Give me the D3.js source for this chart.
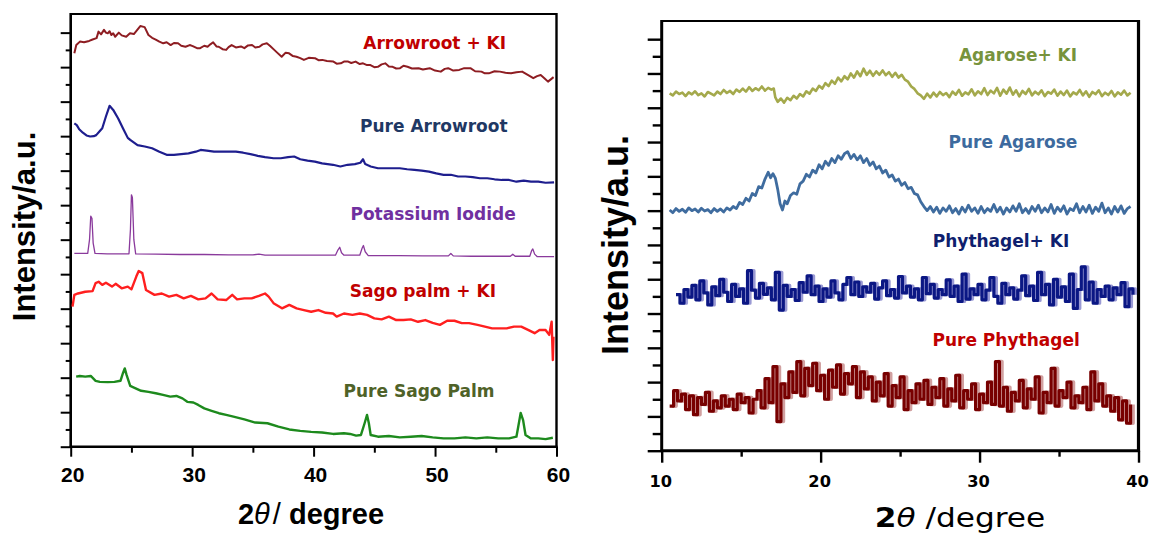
<!DOCTYPE html>
<html>
<head>
<meta charset="utf-8">
<script src="https://cdn.jsdelivr.net/npm/d3@7"></script>
<style>
  body { margin: 0; background: #fff; }
  svg { display: block; }
</style>
</head>
<body>
<svg width="1151" height="535"></svg>
<script>
// ---- data: left panel (2theta, intensity a.u.) ----
var arrowrootKI = [[20.3,11.40],[20.46,11.64],[20.76,11.74],[21.1,11.72],[21.52,11.76],[21.8,11.80],[22.13,11.84],[22.29,12.03],[22.5,11.95],[22.74,12.08],[22.9,12.0],[23.05,11.98],[23.2,12.04],[23.35,11.93],[23.5,11.98],[23.66,11.88],[23.96,12.0],[24.2,11.92],[24.57,11.88],[24.88,11.98],[25.2,11.96],[25.48,12.08],[25.73,12.19],[26.09,12.16],[26.4,11.93],[26.7,11.85],[27.0,11.80],[27.3,11.74],[27.62,11.69],[27.9,11.72],[28.23,11.64],[28.5,11.70],[28.84,11.69],[29.1,11.62],[29.45,11.59],[29.8,11.64],[30.05,11.61],[30.4,11.55],[30.66,11.55],[31.0,11.62],[31.27,11.59],[31.5,11.66],[31.73,11.72],[32.0,11.60],[32.19,11.59],[32.5,11.52],[32.8,11.50],[33.0,11.58],[33.25,11.64],[33.6,11.57],[34.02,11.60],[34.3,11.55],[34.6,11.63],[34.93,11.64],[35.2,11.57],[35.54,11.59],[35.8,11.66],[36.15,11.69],[36.4,11.62],[36.76,11.50],[37.0,11.42],[37.37,11.30],[37.7,11.42],[37.98,11.40],[38.3,11.32],[38.59,11.30],[38.9,11.26],[39.2,11.21],[39.6,11.27],[40.11,11.26],[40.4,11.20],[40.72,11.21],[41.1,11.18],[41.63,11.16],[41.9,11.10],[42.24,11.11],[42.5,11.16],[42.85,11.16],[43.1,11.12],[43.46,11.16],[43.8,11.09],[44.07,11.11],[44.4,11.06],[44.68,11.06],[45.0,11.00],[45.29,11.01],[45.6,11.08],[45.9,11.11],[46.2,11.02],[46.51,11.01],[46.8,10.96],[47.12,10.97],[47.4,11.04],[47.73,11.01],[48.1,10.96],[48.64,10.97],[49.0,10.93],[49.56,10.97],[50.0,10.90],[50.47,10.87],[50.8,10.95],[51.08,10.97],[51.5,10.90],[51.99,10.92],[52.4,10.97],[52.91,10.97],[53.3,10.88],[53.82,10.87],[54.1,10.82],[54.43,10.82],[54.9,10.88],[55.34,10.87],[55.8,10.84],[56.26,10.82],[56.7,10.85],[57.17,10.87],[57.6,10.78],[58.09,10.68],[58.4,10.74],[58.7,10.77],[59.0,10.68],[59.3,10.58],[59.76,10.71]];

var pureArrowroot = [[20.3,9.37],[20.5,9.32],[20.7,9.20],[21.0,9.10],[21.3,9.02],[21.6,8.99],[21.9,9.00],[22.1,9.03],[22.4,9.15],[22.6,9.23],[22.9,9.57],[23.2,9.88],[23.5,9.76],[23.9,9.52],[24.3,9.23],[24.7,8.95],[24.9,8.89],[25.5,8.74],[26.1,8.70],[26.7,8.65],[27.3,8.55],[27.9,8.46],[28.5,8.46],[29.1,8.48],[29.7,8.50],[30.3,8.55],[30.7,8.60],[31.2,8.58],[31.8,8.55],[32.4,8.55],[33.0,8.55],[33.6,8.55],[34.2,8.52],[34.8,8.48],[35.4,8.43],[36.0,8.39],[36.7,8.36],[37.3,8.36],[37.9,8.39],[38.4,8.41],[38.9,8.33],[39.5,8.29],[40.1,8.26],[40.7,8.21],[41.6,8.17],[42.2,8.12],[42.8,8.17],[43.4,8.19],[43.85,8.23],[44.07,8.33],[44.25,8.19],[44.7,8.12],[45.3,8.07],[45.9,8.07],[46.5,8.07],[47.1,8.07],[47.7,8.04],[48.3,8.02],[48.9,8.00],[49.5,7.97],[50.1,7.92],[50.7,7.88],[51.3,7.88],[51.9,7.83],[52.5,7.83],[53.1,7.81],[53.7,7.78],[54.3,7.78],[54.9,7.75],[55.5,7.73],[56.1,7.73],[56.7,7.68],[57.3,7.71],[57.9,7.68],[58.5,7.68],[59.1,7.65],[59.8,7.66]];

var potassiumIodide = [[20.3,5.60],[21.0,5.60],[21.4,5.60],[21.55,6.0],[21.65,6.68],[21.75,6.62],[21.85,5.9],[22.0,5.60],[23.0,5.59],[24.0,5.59],[24.8,5.59],[24.92,6.3],[25.0,7.30],[25.08,7.22],[25.2,6.0],[25.35,5.59],[27.0,5.58],[29.0,5.57],[31.0,5.57],[33.0,5.56],[35.0,5.56],[35.5,5.58],[36.0,5.55],[38.0,5.55],[40.0,5.55],[41.8,5.55],[42.0,5.70],[42.15,5.78],[42.3,5.62],[42.5,5.55],[43.8,5.55],[44.0,5.76],[44.1,5.83],[44.25,5.65],[44.5,5.54],[47.0,5.54],[49.0,5.53],[51.1,5.53],[51.3,5.60],[51.5,5.53],[53.0,5.52],[55.0,5.52],[56.2,5.52],[56.4,5.58],[56.6,5.52],[57.8,5.52],[57.95,5.68],[58.05,5.73],[58.2,5.58],[58.4,5.51],[59.0,5.51],[59.8,5.51]];

var sagoKI = [[20.15,4.06],[20.3,4.40],[20.6,4.44],[21.2,4.49],[21.8,4.51],[22.05,4.74],[22.3,4.78],[22.6,4.69],[22.9,4.75],[23.4,4.64],[23.7,4.72],[24.2,4.59],[24.7,4.64],[25.0,4.56],[25.4,4.93],[25.6,5.09],[25.9,5.03],[26.2,4.54],[26.9,4.40],[27.5,4.44],[28.1,4.35],[28.7,4.40],[29.3,4.30],[29.9,4.37],[30.5,4.27],[31.1,4.30],[31.6,4.44],[32.1,4.27],[32.8,4.25],[33.3,4.40],[33.7,4.27],[34.3,4.30],[34.9,4.30],[35.5,4.37],[36.0,4.44],[36.3,4.35],[36.7,4.16],[37.4,4.01],[38.0,4.11],[38.6,4.01],[39.2,3.96],[39.8,3.91],[40.4,3.96],[41.0,3.88],[41.6,3.86],[41.9,3.77],[42.5,3.86],[43.2,3.82],[43.8,3.86],[44.4,3.82],[45.0,3.72],[45.6,3.69],[46.2,3.77],[46.8,3.67],[47.4,3.67],[48.0,3.69],[48.6,3.62],[49.2,3.67],[49.8,3.59],[50.4,3.53],[51.0,3.65],[51.6,3.65],[52.2,3.58],[52.8,3.58],[53.5,3.53],[54.1,3.48],[54.7,3.43],[55.3,3.43],[55.9,3.43],[56.5,3.48],[57.1,3.48],[57.7,3.38],[58.2,3.29],[58.6,3.38],[59.1,3.38],[59.4,3.24],[59.6,3.62],[59.7,2.51],[59.75,3.19]];

var pureSago = [[20.45,2.03],[20.75,2.05],[21.2,2.03],[21.65,2.05],[22.05,1.91],[22.4,1.88],[23.05,1.87],[23.6,1.88],[24.1,1.91],[24.3,2.13],[24.45,2.27],[24.6,2.08],[24.9,1.76],[25.3,1.70],[25.8,1.62],[26.4,1.59],[27.0,1.55],[27.6,1.50],[28.2,1.45],[28.7,1.47],[29.2,1.40],[29.6,1.30],[30.1,1.28],[30.5,1.21],[31.0,1.11],[31.6,1.04],[32.2,0.97],[32.8,0.92],[33.4,0.87],[34.3,0.79],[35.2,0.70],[36.2,0.68],[37.1,0.58],[38.0,0.50],[38.9,0.46],[39.8,0.43],[40.7,0.41],[41.6,0.37],[42.5,0.39],[43.0,0.37],[43.5,0.32],[43.9,0.34],[44.2,0.68],[44.4,0.92],[44.55,0.68],[44.7,0.34],[45.3,0.29],[46.2,0.31],[47.1,0.27],[48.0,0.29],[48.9,0.31],[49.8,0.27],[50.7,0.24],[51.6,0.24],[52.5,0.27],[53.4,0.24],[54.3,0.27],[55.2,0.24],[56.1,0.24],[56.7,0.29],[56.85,0.58],[57.05,0.98],[57.25,0.77],[57.45,0.34],[57.9,0.24],[58.5,0.24],[59.1,0.22],[59.7,0.26]];

// ---- data: right panel ----
var agaroseKI = [[10.5,10.42],[10.7,10.36],[10.9,10.47],[11.1,10.40],[11.3,10.44],[11.5,10.34],[11.7,10.45],[11.9,10.39],[12.1,10.48],[12.3,10.37],[12.5,10.42],[12.7,10.33],[12.9,10.46],[13.1,10.41],[13.3,10.36],[13.5,10.47],[13.7,10.40],[13.9,10.52],[14.1,10.43],[14.3,10.49],[14.5,10.40],[14.7,10.53],[14.9,10.46],[15.1,10.56],[15.3,10.47],[15.5,10.60],[15.7,10.49],[15.9,10.57],[16.1,10.51],[16.3,10.62],[16.5,10.50],[16.7,10.58],[16.9,10.53],[17.05,10.56],[17.15,10.30],[17.3,10.17],[17.5,10.27],[17.7,10.15],[17.9,10.29],[18.1,10.22],[18.3,10.35],[18.5,10.27],[18.7,10.40],[18.9,10.33],[19.1,10.48],[19.3,10.41],[19.5,10.56],[19.7,10.49],[19.9,10.64],[20.1,10.56],[20.3,10.72],[20.5,10.63],[20.7,10.79],[20.9,10.70],[21.1,10.88],[21.3,10.77],[21.5,10.92],[21.7,10.83],[21.9,11.00],[22.1,10.88],[22.3,11.06],[22.5,10.92],[22.7,11.14],[22.9,10.96],[23.1,11.08],[23.3,10.93],[23.5,11.06],[23.7,10.96],[23.9,11.09],[24.1,10.95],[24.3,11.04],[24.5,10.90],[24.7,11.02],[24.9,10.88],[25.1,10.96],[25.3,10.82],[25.5,10.76],[25.7,10.62],[25.9,10.55],[26.1,10.42],[26.3,10.36],[26.5,10.26],[26.7,10.41],[26.9,10.30],[27.1,10.44],[27.3,10.33],[27.5,10.46],[27.7,10.37],[27.9,10.43],[28.1,10.31],[28.3,10.47],[28.5,10.38],[28.7,10.52],[28.9,10.35],[29.1,10.45],[29.3,10.39],[29.5,10.54],[29.7,10.36],[29.9,10.48],[30.1,10.40],[30.3,10.57],[30.5,10.37],[30.7,10.50],[30.9,10.42],[31.1,10.58],[31.3,10.35],[31.5,10.53],[31.7,10.41],[31.9,10.59],[32.1,10.38],[32.3,10.51],[32.5,10.33],[32.7,10.49],[32.9,10.40],[33.1,10.55],[33.3,10.36],[33.5,10.47],[33.7,10.39],[33.9,10.51],[34.1,10.34],[34.3,10.46],[34.5,10.41],[34.7,10.53],[34.9,10.35],[35.1,10.47],[35.3,10.37],[35.5,10.50],[35.7,10.33],[35.9,10.45],[36.1,10.39],[36.3,10.52],[36.5,10.36],[36.7,10.48],[36.9,10.32],[37.1,10.46],[37.3,10.40],[37.5,10.51],[37.7,10.34],[37.9,10.44],[38.1,10.37],[38.3,10.49],[38.5,10.33],[38.7,10.45],[38.9,10.38],[39.1,10.50],[39.3,10.36],[39.5,10.44]];

var pureAgarose = [[10.5,7.02],[10.7,6.94],[10.9,7.06],[11.1,6.98],[11.3,7.04],[11.5,6.95],[11.7,7.08],[11.9,7.00],[12.1,7.05],[12.3,6.96],[12.5,7.07],[12.7,6.99],[12.9,7.03],[13.1,6.94],[13.3,7.06],[13.5,6.98],[13.7,7.05],[13.9,6.96],[14.1,7.08],[14.3,7.02],[14.5,7.12],[14.7,7.06],[14.9,7.24],[15.1,7.18],[15.3,7.36],[15.5,7.28],[15.7,7.50],[15.9,7.44],[16.1,7.70],[16.3,7.66],[16.5,7.92],[16.7,8.12],[16.85,7.96],[17.0,8.08],[17.15,7.95],[17.3,7.62],[17.45,7.20],[17.6,7.02],[17.75,7.28],[17.9,7.20],[18.1,7.44],[18.3,7.52],[18.5,7.48],[18.7,7.78],[18.9,7.86],[19.1,8.06],[19.3,7.98],[19.5,8.18],[19.7,8.10],[19.9,8.34],[20.1,8.22],[20.3,8.44],[20.5,8.32],[20.7,8.52],[20.9,8.40],[21.1,8.60],[21.3,8.50],[21.5,8.66],[21.7,8.72],[21.9,8.52],[22.1,8.64],[22.3,8.48],[22.5,8.60],[22.7,8.40],[22.9,8.52],[23.1,8.32],[23.3,8.42],[23.5,8.22],[23.7,8.30],[23.9,8.10],[24.1,8.18],[24.3,7.98],[24.5,8.04],[24.7,7.86],[24.9,7.92],[25.1,7.74],[25.3,7.82],[25.5,7.64],[25.7,7.68],[25.9,7.50],[26.1,7.46],[26.3,7.26],[26.5,7.12],[26.7,7.00],[26.9,7.12],[27.1,6.96],[27.3,7.10],[27.5,6.92],[27.7,7.08],[27.9,6.98],[28.1,7.14],[28.3,6.94],[28.5,7.06],[28.7,6.90],[28.9,7.10],[29.1,6.96],[29.3,7.16],[29.5,6.98],[29.7,7.08],[29.9,6.92],[30.1,7.12],[30.3,6.94],[30.5,7.06],[30.7,6.98],[30.9,7.18],[31.1,6.96],[31.3,7.10],[31.5,6.90],[31.7,7.08],[31.9,6.96],[32.1,7.14],[32.3,6.98],[32.5,7.20],[32.7,6.94],[32.9,7.06],[33.1,6.92],[33.3,7.12],[33.5,6.98],[33.7,7.16],[33.9,6.94],[34.1,7.08],[34.3,6.96],[34.5,7.18],[34.7,6.92],[34.9,7.10],[35.1,6.98],[35.3,7.14],[35.5,6.90],[35.7,7.06],[35.9,7.00],[36.1,7.20],[36.3,6.94],[36.5,7.12],[36.7,6.96],[36.9,7.16],[37.1,6.92],[37.3,7.10],[37.5,6.98],[37.7,7.22],[37.9,6.94],[38.1,7.08],[38.3,6.90],[38.5,7.12],[38.7,6.96],[38.9,7.14],[39.1,6.92],[39.3,7.06],[39.5,7.12]];

var phythagelKI = [[10.9,4.55],[11.15,4.30],[11.4,4.70],[11.65,4.48],[11.9,4.82],[12.15,4.40],[12.4,4.95],[12.65,4.60],[12.9,4.25],[13.15,4.78],[13.4,4.52],[13.65,5.00],[13.9,4.62],[14.15,4.35],[14.4,4.85],[14.65,4.50],[14.9,4.72],[15.15,4.30],[15.4,5.25],[15.65,4.68],[15.9,4.45],[16.15,4.88],[16.4,4.56],[16.65,4.75],[16.9,4.40],[17.15,5.20],[17.4,4.10],[17.65,4.82],[17.9,4.50],[18.15,4.70],[18.4,4.38],[18.65,4.90],[18.9,4.62],[19.15,5.10],[19.4,4.55],[19.65,4.80],[19.9,4.35],[20.15,4.72],[20.4,4.48],[20.65,4.95],[20.9,4.60],[21.15,4.40],[21.4,4.85],[21.65,5.05],[21.9,4.55],[22.15,4.92],[22.4,4.50],[22.65,4.78],[22.9,4.62],[23.15,4.88],[23.4,4.42],[23.65,4.75],[23.9,4.95],[24.15,4.52],[24.4,4.70],[24.65,4.45],[24.9,5.08],[25.15,4.60],[25.4,4.80],[25.65,4.48],[25.9,4.72],[26.15,4.40],[26.4,5.05],[26.65,4.58],[26.9,4.85],[27.15,4.45],[27.4,4.70],[27.65,4.55],[27.9,4.98],[28.15,4.50],[28.4,4.80],[28.65,4.35],[28.9,5.15],[29.15,4.42],[29.4,4.72],[29.65,4.55],[29.9,4.85],[30.15,4.40],[30.4,4.68],[30.65,5.05],[30.9,4.50],[31.15,4.30],[31.4,4.88],[31.65,4.55],[31.9,4.75],[32.15,4.42],[32.4,4.68],[32.65,5.10],[32.9,4.52],[33.15,4.80],[33.4,4.38],[33.65,5.20],[33.9,4.55],[34.15,4.85],[34.4,4.25],[34.65,5.00],[34.9,4.48],[35.15,4.78],[35.4,4.35],[35.65,5.15],[35.9,4.15],[36.15,4.70],[36.4,5.36],[36.65,4.40],[36.9,4.92],[37.15,4.30],[37.4,4.70],[37.65,4.50],[37.9,4.80],[38.15,4.40],[38.4,4.75],[38.65,4.55],[38.9,4.90],[39.15,4.20],[39.4,4.72],[39.65,4.55]];

var purePhythagel = [[10.5,1.30],[10.75,1.75],[11.0,1.45],[11.25,1.65],[11.5,1.20],[11.75,1.60],[12.0,1.05],[12.25,1.55],[12.5,1.35],[12.75,1.70],[13.0,1.15],[13.25,1.45],[13.5,1.25],[13.75,1.60],[14.0,1.30],[14.25,1.50],[14.5,1.20],[14.75,1.65],[15.0,1.40],[15.25,1.55],[15.5,1.10],[15.75,1.50],[16.0,1.75],[16.25,1.25],[16.5,2.10],[16.75,1.40],[17.0,2.45],[17.25,0.85],[17.5,1.95],[17.75,1.55],[18.0,2.30],[18.25,1.70],[18.5,2.60],[18.75,1.60],[19.0,2.40],[19.25,1.90],[19.5,2.55],[19.75,1.75],[20.0,2.20],[20.25,1.50],[20.5,2.35],[20.75,1.85],[21.0,2.50],[21.25,1.65],[21.5,2.25],[21.75,1.95],[22.0,2.45],[22.25,1.55],[22.5,2.30],[22.75,1.80],[23.0,2.15],[23.25,1.45],[23.5,2.00],[23.75,1.60],[24.0,2.25],[24.25,1.30],[24.5,1.90],[24.75,1.55],[25.0,2.15],[25.25,1.20],[25.5,1.75],[25.75,1.40],[26.0,1.95],[26.25,1.50],[26.5,2.05],[26.75,1.35],[27.0,1.85],[27.25,1.55],[27.5,2.10],[27.75,1.30],[28.0,1.80],[28.25,1.45],[28.5,2.20],[28.75,1.25],[29.0,1.75],[29.25,1.50],[29.5,1.95],[29.75,1.20],[30.0,1.65],[30.25,1.40],[30.5,2.00],[30.75,1.35],[31.0,2.60],[31.25,1.30],[31.5,1.85],[31.75,1.15],[32.0,1.70],[32.25,1.45],[32.5,2.05],[32.75,1.25],[33.0,1.80],[33.25,1.50],[33.5,2.15],[33.75,1.10],[34.0,1.70],[34.25,1.40],[34.5,2.40],[34.75,1.30],[35.0,1.75],[35.25,1.55],[35.5,2.00],[35.75,1.25],[36.0,1.60],[36.25,1.40],[36.5,1.85],[36.75,1.20],[37.0,2.30],[37.25,1.45],[37.5,1.95],[37.75,1.30],[38.0,1.60],[38.25,1.15],[38.5,1.55],[38.75,0.90],[39.0,1.45],[39.25,0.80],[39.5,1.35]];

// labels and ticks
var leftNames = ["Arrowroot + KI", "Pure Arrowroot", "Potassium Iodide", "Sago palm + KI", "Pure Sago Palm"];
var leftLabelAt = [[49.97, 11.53], [49.9, 9.12], [49.84, 6.57], [49.0, 4.35], [48.68, 1.45]];
var rightNames = ["Agarose+ KI", "Pure Agarose", "Phythagel+ KI", "Pure Phythagel"];
var rightLabelAt = [[32.42, 11.36], [32.1, 8.83], [31.35, 5.94], [31.67, 3.05]];
var leftXTicks = [20, 30, 40, 50, 60];
var leftXMinor = [25, 35, 45, 55];
var rightXTicks = [10, 20, 30, 40];
var rightXMinor = [15, 25, 35];

var svg = d3.select("svg");
var fontA = "'Liberation Sans', Arial, sans-serif";
var fontD = "'DejaVu Sans', Verdana, sans-serif";

// scales
var xL = d3.scaleLinear().domain([20, 60]).range([70.7, 556.5]);
var yL = d3.scaleLinear().domain([0, 12.54]).range([446.7, 14]);
var xR = d3.scaleLinear().domain([10, 40]).range([661.7, 1138.5]);
var yR = d3.scaleLinear().domain([0, 12.53]).range([450.7, 21]);

function drawAxes(x, y, majorX, minorX, o) {
  var g = svg.append("g");
  var y0 = y.range()[0], yTop = y.range()[1];
  var x0 = x.range()[0], x1 = x.range()[1];
  // y ticks
  var ax = g.append("g").attr("transform", "translate(" + x0 + ",0)")
    .call(d3.axisLeft(y).tickValues(d3.range(0, 13)).tickSize(o.majY).tickFormat(""));
  var ax2 = g.append("g").attr("transform", "translate(" + x0 + ",0)")
    .call(d3.axisLeft(y).tickValues(d3.range(0.5, 12.5, 1)).tickSize(o.minY).tickFormat(""));
  // x ticks
  var bx = g.append("g").attr("transform", "translate(0," + y0 + ")")
    .call(d3.axisBottom(x).tickValues(majorX).tickSize(o.majX).tickFormat(""));
  var bx2 = g.append("g").attr("transform", "translate(0," + y0 + ")")
    .call(d3.axisBottom(x).tickValues(minorX).tickSize(o.minX).tickFormat(""));
  [ax, ax2, bx, bx2].forEach(function (a) {
    a.select(".domain").remove();
    a.selectAll("line").attr("stroke", "#000").attr("stroke-width", o.tw);
  });
  // frame
  g.append("line").attr("x1", x0).attr("x2", x0).attr("y1", yTop - 1).attr("y2", y0 + 1)
    .attr("stroke", "#000").attr("stroke-width", o.aw);
  g.append("line").attr("x1", x0 - 1).attr("x2", x1 + 1).attr("y1", y0).attr("y2", y0)
    .attr("stroke", "#000").attr("stroke-width", o.aw);
  g.append("line").attr("x1", x0).attr("x2", x1).attr("y1", yTop).attr("y2", yTop)
    .attr("stroke", "#000").attr("stroke-width", o.fw);
  g.append("line").attr("x1", x1).attr("x2", x1).attr("y1", yTop - 1).attr("y2", y0 + 1)
    .attr("stroke", "#000").attr("stroke-width", o.rw);
  // tick labels
  g.selectAll("text.tl").data(majorX).enter().append("text")
    .attr("transform", function (d) { return "translate(" + (x(d) + o.lx) + "," + o.ly + ") scale(" + o.ls + ",1)"; })
    .attr("text-anchor", "middle")
    .style("font-family", o.lf).style("font-weight", "bold").style("font-size", o.lsz + "px")
    .text(function (d) { return d; });
}

drawAxes(xL, yL, leftXTicks, leftXMinor,
  { majY: 10, minY: 5, majX: 10, minX: 6, tw: 2, aw: 2.6, fw: 2, rw: 2.4, lx: 2, ly: 482, ls: 1, lf: fontA, lsz: 21 });
drawAxes(xR, yR, rightXTicks, rightXMinor,
  { majY: 14, minY: 9, majX: 12, minX: 6, tw: 2.4, aw: 3, fw: 2.2, rw: 3.2, lx: -1, ly: 487, ls: 1.08, lf: fontD, lsz: 15 });

// traces
function trace(x, y, data, color, width, curve, dx) {
  var line = d3.line().x(function (d) { return x(d[0]); }).y(function (d) { return y(d[1]); })
    .curve(curve || d3.curveLinear);
  svg.append("path").datum(data)
    .attr("d", line)
    .attr("transform", "translate(" + (dx || 0) + ",0)")
    .attr("fill", "none").attr("stroke", color).attr("stroke-width", width)
    .attr("stroke-linejoin", "round");
}

trace(xL, yL, arrowrootKI, "#8e1d22", 2);
trace(xL, yL, pureArrowroot, "#1e1e8e", 2.2);
trace(xL, yL, potassiumIodide, "#8a3a9c", 1.3);
trace(xL, yL, sagoKI, "#ff1f1f", 2.4);
trace(xL, yL, pureSago, "#1d8a1d", 2.4);

trace(xR, yR, agaroseKI, "#a4a94c", 2.6);
trace(xR, yR, pureAgarose, "#3f6c9f", 2.8);
trace(xR, yR, phythagelKI, "#9a9ad4", 3.2, d3.curveStepAfter, 2.5);
trace(xR, yR, phythagelKI, "#0b1784", 3.2, d3.curveStepAfter);
trace(xR, yR, purePhythagel, "#d1a0a0", 3.6, d3.curveStepAfter, 2.5);
trace(xR, yR, purePhythagel, "#780000", 3.2, d3.curveStepAfter);

// series labels
var leftColors = ["#c00000", "#1f3864", "#7030a0", "#c00000", "#4f6228"];
var rightColors = ["#77933c", "#3d6a9e", "#0f1f6e", "#c00000"];
function labels(x, y, names, at, colors) {
  svg.append("g").selectAll("text").data(names).enter().append("text")
    .attr("x", function (d, i) { return x(at[i][0]); })
    .attr("y", function (d, i) { return y(at[i][1]); })
    .attr("text-anchor", "middle")
    .attr("fill", function (d, i) { return colors[i]; })
    .style("font-family", fontD).style("font-weight", "bold").style("font-size", "17px")
    .text(function (d) { return d; });
}
labels(xL, yL, leftNames, leftLabelAt, leftColors);
labels(xR, yR, rightNames, rightLabelAt, rightColors);

// axis titles
svg.append("text").attr("transform", "translate(35,226.5) rotate(-90)")
  .attr("text-anchor", "middle")
  .style("font-family", fontA).style("font-weight", "bold").style("font-size", "31px")
  .text("Intensity/a.u.");
svg.append("text").attr("transform", "translate(628,245) rotate(-90)")
  .attr("text-anchor", "middle")
  .style("font-family", fontA).style("font-weight", "bold").style("font-size", "36px")
  .text("Intensity/a.u.");

var tl = svg.append("text").attr("x", 311).attr("y", 524).attr("text-anchor", "middle")
  .style("font-family", fontA).style("font-weight", "bold").style("font-size", "29px");
tl.append("tspan").text("2");
tl.append("tspan").style("font-style", "italic").style("font-weight", "normal").text("θ");
tl.append("tspan").attr("dx", 3).style("font-weight", "normal").text("/");
tl.append("tspan").text(" degree");

var tr = svg.append("text").attr("transform", "translate(960,527) scale(1.2,1)").attr("text-anchor", "middle")
  .style("font-family", fontD).style("font-size", "26px");
tr.append("tspan").style("font-weight", "bold").text("2");
tr.append("tspan").style("font-style", "italic").text("θ");
tr.append("tspan").text(" /degree");
</script>
</body>
</html>
